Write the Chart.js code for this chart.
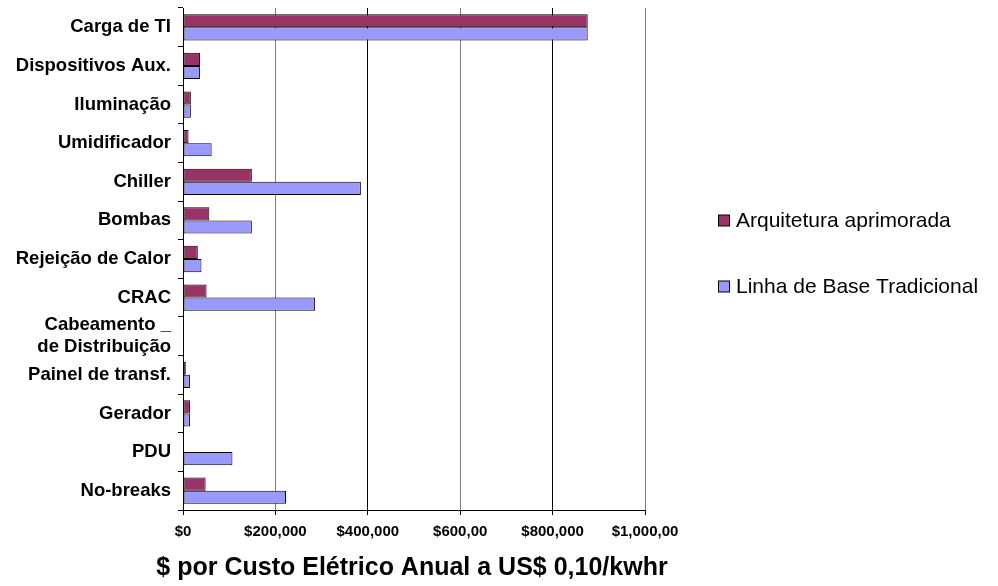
<!DOCTYPE html>
<html lang="pt">
<head>
    <meta charset="UTF-8">
    <title>Custo Elétrico Anual</title>
    <script src="https://cdn.jsdelivr.net/npm/chart.js"></script>
    <style>
        body { margin: 0; background: #fff; }
        #wrap { width: 998px; height: 586px; }
    </style>
</head>
<body>
    <div id="wrap">
        <canvas id="costChart"></canvas>
    </div>
    <script>
        // categorias (de cima para baixo)
        const categories = [
            'Carga de TI',
            'Dispositivos Aux.',
            'Iluminação',
            'Umidificador',
            'Chiller',
            'Bombas',
            'Rejeição de Calor',
            'CRAC',
            ['Cabeamento _', 'de Distribuição'],
            'Painel de transf.',
            'Gerador',
            'PDU',
            'No-breaks'
        ];
        const seriesNames = ['Arquitetura aprimorada', 'Linha de Base Tradicional'];
        const aprimorada = [876000, 37000, 17000, 12000, 149000, 57000, 32000, 51000, 0, 6000, 15000, 0, 49000];
        const tradicional = [876000, 37000, 17000, 62000, 385000, 149000, 40000, 286000, 0, 15000, 15000, 107000, 223000];
        const tickLabels = ['$0', '$200,000', '$400,000', '$600,00', '$800,000', '$1,000,00'];
        const axisTitle = '$ por Custo Elétrico Anual a US$ 0,10/kwhr';
        const colors = ['#993366', '#9999FF'];

        Chart.defaults.font.family = "Arial, 'Liberation Sans', sans-serif";
        Chart.defaults.color = '#000';

        // legenda à direita e título do eixo (sem limite de largura), no estilo do Excel
        const extras = {
            id: 'extras',
            afterDraw(chart) {
                const ctx = chart.ctx;
                const area = chart.chartArea;
                const rows = [220.5, 286.5];
                ctx.save();
                ctx.font = "21px Arial, 'Liberation Sans', sans-serif";
                ctx.textBaseline = 'middle';
                seriesNames.forEach((name, i) => {
                    ctx.fillStyle = colors[i];
                    ctx.fillRect(718.5, rows[i] - 5.5, 11, 11);
                    ctx.strokeStyle = '#000';
                    ctx.lineWidth = 1;
                    ctx.strokeRect(718.5, rows[i] - 5.5, 11, 11);
                    ctx.fillStyle = '#000';
                    ctx.fillText(name, 736, rows[i] + 1);
                });

                ctx.font = "bold 25px Arial, 'Liberation Sans', sans-serif";
                ctx.textAlign = 'center';
                ctx.fillText(axisTitle, (area.left + area.right) / 2 - 2, 568);
                ctx.restore();
            }
        };

        const ctx = document.getElementById('costChart').getContext('2d');
        const costChart = new Chart(ctx, {
            type: 'bar',
            data: {
                labels: categories,
                datasets: [
                    {
                        label: seriesNames[0],
                        data: aprimorada,
                        backgroundColor: colors[0],
                        borderColor: '#000',
                        borderWidth: 1,
                        borderSkipped: false
                    },
                    {
                        label: seriesNames[1],
                        data: tradicional,
                        backgroundColor: colors[1],
                        borderColor: '#000',
                        borderWidth: 1,
                        borderSkipped: false
                    }
                ]
            },
            options: {
                indexAxis: 'y',
                responsive: true,
                maintainAspectRatio: false,
                animation: false,
                layout: {
                    padding: { top: 8, right: 353, bottom: 0, left: 0 }
                },
                datasets: {
                    bar: { categoryPercentage: 0.68, barPercentage: 1.0 }
                },
                scales: {
                    x: {
                        min: 0,
                        max: 1000000,
                        ticks: {
                            stepSize: 200000,
                            padding: 8,
                            maxRotation: 0,
                            font: { size: 15, weight: 'bold' },
                            callback: function(value, index) {
                                return tickLabels[index];
                            }
                        },
                        grid: {
                            color: function(c) {
                                return c.index % 2 === 1 ? '#808080' : '#000';
                            },
                            tickColor: '#000',
                            tickLength: 5
                        },
                        border: { color: '#000' },
                        afterFit: function(scale) {
                            scale.height = 76;
                            scale.paddingLeft = 0;
                            scale.paddingRight = 0;
                        }
                    },
                    y: {
                        ticks: {
                            padding: 7,
                            autoSkip: false,
                            font: { size: 18.5, weight: 'bold' }
                        },
                        grid: {
                            drawOnChartArea: false,
                            tickColor: '#000',
                            tickLength: 5
                        },
                        border: { color: '#000' },
                        afterFit: function(scale) {
                            scale.width = 183;
                            scale.paddingTop = 0;
                            scale.paddingBottom = 0;
                        }
                    }
                },
                plugins: {
                    legend: { display: false },
                    tooltip: { enabled: false }
                }
            },
            plugins: [extras]
        });
    </script>
</body>
</html>
